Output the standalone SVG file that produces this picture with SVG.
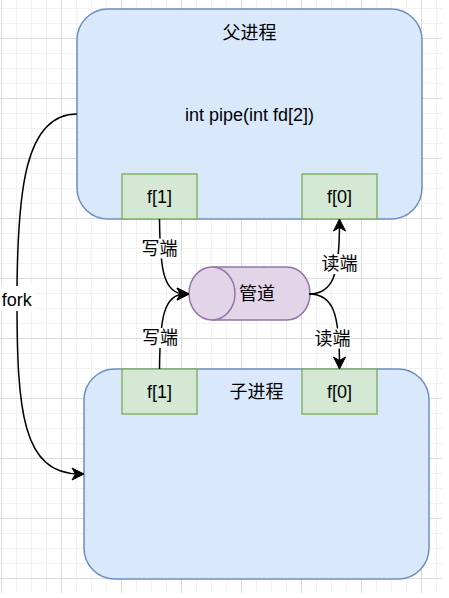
<svg xmlns="http://www.w3.org/2000/svg" width="449" height="598" viewBox="0 0 449 598">
<style>
.t{font-family:"Liberation Sans","Noto Sans CJK SC",sans-serif;font-size:18px;fill:#000;text-anchor:middle}
.c{dominant-baseline:central}
.proc{fill:#dae8fc;stroke:#6c8ebf;stroke-width:1.5}
.fd{fill:#d5e8d4;stroke:#82b366;stroke-width:1.5}
.pipe{fill:#e1d5e7;stroke:#9673a6;stroke-width:1.5}
.edge{fill:none;stroke:#000;stroke-width:1.5;marker-end:url(#arr)}
.lbg{fill:#fff}
</style>
<defs>
<pattern id="grid" x="1" y="-22" width="60" height="60" patternUnits="userSpaceOnUse">
<path d="M15.5,0V60M30.5,0V60M45.5,0V60M0,15.5H60M0,30.5H60M0,45.5H60" stroke="#f1f1f1" stroke-width="1" fill="none"/>
<path d="M0.5,0V60M0,0.5H60" stroke="#dcdcdc" stroke-width="1" fill="none"/>
</pattern>
<marker id="arr" markerUnits="userSpaceOnUse" viewBox="0 0 14 14" markerWidth="14" markerHeight="14" refX="9" refY="7" orient="auto">
<path d="M1,1 L13,7 L1,13 L4.5,7 Z" fill="#000" stroke="#000" stroke-width="1"/>
</marker>
</defs>
<rect x="0" y="0" width="449" height="598" fill="#fff"/>
<rect x="0" y="0" width="442" height="593" fill="url(#grid)"/>

<g id="parent">
<rect class="proc" x="77" y="9" width="345" height="210" rx="31" ry="31"/>
<text class="t c" x="249.5" y="32.5">父进程</text>
<text class="t" x="249.5" y="121">int pipe(int fd[2])</text>
</g>
<g id="parent-f1">
<rect class="fd" x="122" y="174" width="75" height="45"/>
<text class="t" x="159.5" y="203">f[1]</text>
</g>
<g id="parent-f0">
<rect class="fd" x="302" y="174" width="75" height="45"/>
<text class="t" x="339.5" y="203">f[0]</text>
</g>

<g id="child">
<rect class="proc" x="84" y="369" width="345" height="210" rx="31" ry="31"/>
<text class="t c" x="256.5" y="392">子进程</text>
</g>
<g id="child-f1">
<rect class="fd" x="122" y="369" width="75" height="45"/>
<text class="t" x="159.5" y="398">f[1]</text>
</g>
<g id="child-f0">
<rect class="fd" x="302" y="369" width="75" height="45"/>
<text class="t" x="339.5" y="398">f[0]</text>
</g>

<g id="pipe">
<path class="pipe" d="M212,267 L287,267 A23,26.5 0 0 1 287,320 L212,320 A23,26.5 0 0 1 212,267 Z"/>
<path class="pipe" d="M212,267 A23,26.5 0 0 1 212,320" fill="none"/>
<text class="t c" x="257" y="293.5">管道</text>
</g>

<g id="connectors">
<path class="edge" d="M159.5,219 C160,268 163,294 185,294"/>
<path class="edge" d="M159.5,369 C160,320 163,294 185,294"/>
<path class="edge" d="M309,294 C333,294 339.5,275 339.5,223"/>
<path class="edge" d="M309,294 C333,294 339.5,313 339.5,365"/>
<path class="edge" d="M77,114 C25,114 17,190 17,300 C17,410 22,474 80,474"/>
<rect class="lbg" x="141" y="238.5" width="37" height="20"/>
<text class="t c" x="159.5" y="248.5">写端</text>
<rect class="lbg" x="141.5" y="328" width="37" height="20"/>
<text class="t c" x="160" y="338">写端</text>
<rect class="lbg" x="321" y="254" width="37" height="20"/>
<text class="t c" x="339.5" y="264">读端</text>
<rect class="lbg" x="314" y="328.5" width="37" height="20"/>
<text class="t c" x="332.5" y="338.5">读端</text>
<rect class="lbg" x="0" y="286" width="34" height="25"/>
<text class="t" x="16.7" y="305.5">fork</text>
</g>
</svg>
